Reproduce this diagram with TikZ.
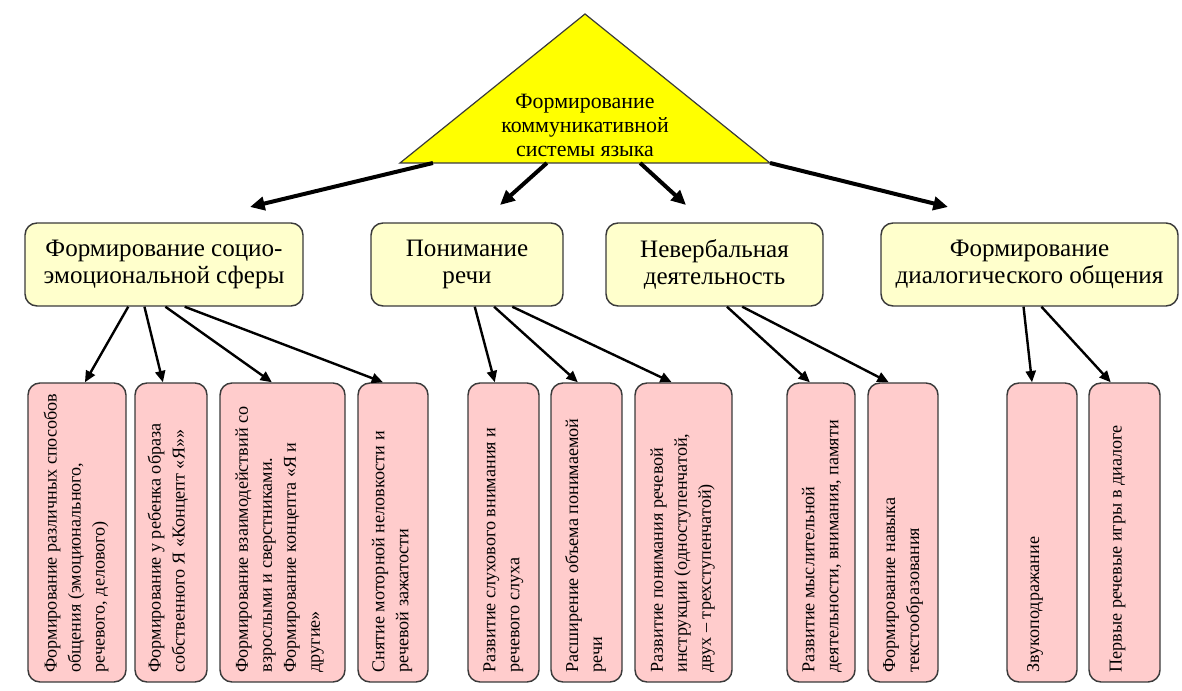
\documentclass[tikz,border=0pt]{standalone}
\usepackage{fontspec}
\setmainfont{Liberation Serif}
\usetikzlibrary{arrows.meta,calc}
\definecolor{triyellow}{HTML}{FFFF00}
\definecolor{midfill}{HTML}{FFFFCC}
\definecolor{pinkfill}{HTML}{FFCCCC}
\definecolor{edgegray}{HTML}{3A3A3A}
\begin{document}
\begin{tikzpicture}[x=0.75pt,y=-0.75pt,
  tri/.style={draw=edgegray, line width=0.9pt, fill=triyellow, line join=miter},
  tritext/.style={align=center, inner sep=0pt, font=\fontsize{16.4}{18}\selectfont},
  midbox/.style={draw=edgegray, line width=1.1pt, fill=midfill, rounded corners=9pt,
    minimum height=62.25pt, align=center, inner sep=0pt,
    font=\fontsize{18.8}{20}\selectfont},
  pbox/.style={draw=edgegray, line width=1.1pt, fill=pinkfill, rounded corners=9pt,
    minimum height=224.25pt, inner sep=0pt},
  ptext/.style={rotate=90, anchor=west, align=left, inner sep=0pt,
    font=\fontsize{13.6}{18}\selectfont},
  bigarr/.style={line width=3pt, -{Triangle[length=11pt,width=10pt]}},
  smallarr/.style={line width=1.8pt, -{Triangle[length=8.5pt,width=7.5pt]}}
]
\useasboundingbox (0,0) rectangle (1182,691);

% apex triangle
\coordinate (apex) at (585,14);
\coordinate (tl) at (400,163);
\coordinate (tr) at (770,163);
\draw[tri] (apex) -- (tr) -- (tl) -- cycle;
\node[tritext] (top) at (585,125) {Формирование\\коммуникативной\\системы языка};

% middle boxes
\node[midbox, minimum width=208.5pt] (m1) at (164,264.5) {Формирование социо-\\эмоциональной сферы};
\node[midbox, minimum width=144pt] (m2) at (467,264.5) {Понимание\\речи};
\node[midbox, minimum width=162.75pt] (m3) at (714.5,264.5) {Невербальная\\деятельность};
\node[midbox, minimum width=222.75pt] (m4) at (1029.5,264.5) {Формирование\\диалогического общения};

% arrows from the triangle
\coordinate (e1) at (250,207);
\coordinate (e2) at (500,205);
\coordinate (e3) at (686,205);
\coordinate (e4) at (948,207);
\draw[bigarr] ($(tl)!0.089!(tr)$) -- (e1);
\draw[bigarr] ($(tl)!0.397!(tr)$) -- (e2);
\draw[bigarr] ($(tl)!0.649!(tr)$) -- (e3);
\draw[bigarr] (tr) -- (e4);

% bottom boxes
\node[pbox, minimum width=73.5pt] (b1) at (77,532.5) {};
\node[pbox, minimum width=54pt] (b2) at (171,532.5) {};
\node[pbox, minimum width=93.75pt] (b3) at (282.5,532.5) {};
\node[pbox, minimum width=52.5pt] (b4) at (393,532.5) {};
\node[pbox, minimum width=53.25pt] (b5) at (503.5,532.5) {};
\node[pbox, minimum width=53.25pt] (b6) at (586.5,532.5) {};
\node[pbox, minimum width=72.75pt] (b7) at (683.5,532.5) {};
\node[pbox, minimum width=51pt] (b8) at (821,532.5) {};
\node[pbox, minimum width=52.5pt] (b9) at (903,532.5) {};
\node[pbox, minimum width=52.5pt] (b10) at (1042,532.5) {};
\node[pbox, minimum width=53.25pt] (b11) at (1124.5,532.5) {};

% rotated texts
\node[ptext] (t1) at ($(b1.south)+(-1,-10)$) {Формирование различных способов\\общения (эмоционального,\\речевого, делового)};
\node[ptext] (t2) at ($(b2.south)+(-3,-10)$) {Формирование у ребенка образа\\собственного Я «Концепт «Я»»};
\node[ptext] (t3) at ($(b3.south)+(-3,-10)$) {Формирование взаимодействий со\\взрослыми и сверстниками.\\Формирование концепта «Я и\\другие»};
\node[ptext] (t4) at ($(b4.south)+(-1,-10)$) {Снятие моторной неловкости и\\речевой зажатости};
\node[ptext] (t5) at ($(b5.south)+(0,-10)$) {Развитие слухового внимания и\\речевого слуха};
\node[ptext] (t6) at ($(b6.south)+(-1,-10)$) {Расширение объема понимаемой\\речи};
\node[ptext] (t7) at ($(b7.south)+(-1,-10)$) {Развитие понимания речевой\\инструкции (одноступенчатой,\\двух – трехступенчатой)};
\node[ptext] (t8) at ($(b8.south)+(1,-10)$) {Развитие мыслительной\\деятельности, внимания, памяти};
\node[ptext] (t9) at ($(b9.south)+(0,-10)$) {Формирование навыка\\текстообразования};
\node[ptext] (t10) at ($(b10.south)+(-7,-10)$) {Звукоподражание};
\node[ptext] (t11) at ($(b11.south)+(-7,-10)$) {Первые речевые игры в диалоге};

% arrows from middle boxes
\draw[smallarr] ($(m1.south west)!0.372!(m1.south east)$) -- ($(b1.north west)!0.58!(b1.north east)$);
\draw[smallarr] ($(m1.south west)!0.43!(m1.south east)$) -- ($(b2.north west)!0.39!(b2.north east)$);
\draw[smallarr] ($(m1.south west)!0.505!(m1.south east)$) -- ($(b3.north west)!0.416!(b3.north east)$);
\draw[smallarr] ($(m1.south west)!0.574!(m1.south east)$) -- ($(b4.north west)!0.36!(b4.north east)$);
\draw[smallarr] ($(m2.south west)!0.54!(m2.south east)$) -- ($(b5.north west)!0.38!(b5.north east)$);
\draw[smallarr] ($(m2.south west)!0.64!(m2.south east)$) -- ($(b6.north west)!0.38!(b6.north east)$);
\draw[smallarr] ($(m2.south west)!0.734!(m2.south east)$) -- ($(b7.north west)!0.38!(b7.north east)$);
\draw[smallarr] ($(m3.south west)!0.557!(m3.south east)$) -- ($(b8.north west)!0.34!(b8.north east)$);
\draw[smallarr] ($(m3.south west)!0.627!(m3.south east)$) -- ($(b9.north west)!0.30!(b9.north east)$);
\draw[smallarr] ($(m4.south west)!0.48!(m4.south east)$) -- ($(b10.north west)!0.36!(b10.north east)$);
\draw[smallarr] ($(m4.south west)!0.54!(m4.south east)$) -- ($(b11.north west)!0.31!(b11.north east)$);
\end{tikzpicture}
\end{document}
